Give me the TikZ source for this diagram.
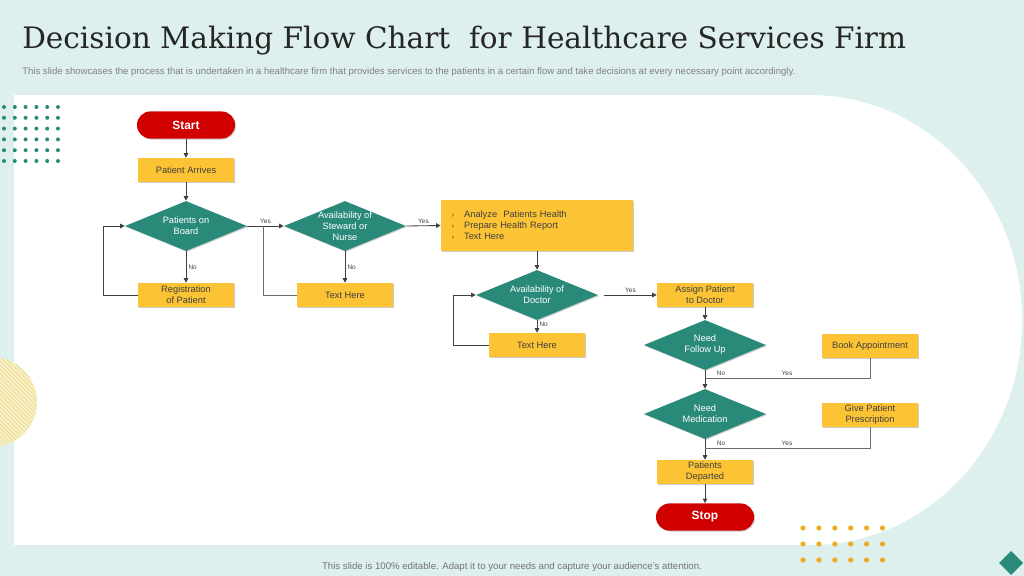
\documentclass[tikz,border=0pt]{standalone}
\usepackage{fontspec}
\setsansfont{Liberation Sans}
\newfontfamily\headfont{DejaVu Serif}
\usetikzlibrary{shapes.geometric,arrows.meta,shadows,patterns}

\definecolor{mint}{RGB}{221,240,238}
\definecolor{boxyellow}{RGB}{252,196,52}
\definecolor{dteal}{RGB}{42,138,122}
\definecolor{stopred}{RGB}{208,0,0}
\definecolor{ink}{RGB}{64,64,64}
\definecolor{dotgold}{RGB}{232,176,32}
\definecolor{hatch}{RGB}{234,214,128}
\definecolor{hatchbg}{RGB}{248,240,200}

\begin{document}
\begin{tikzpicture}[x=0.025cm,y=-0.025cm,
  box/.style={fill=boxyellow,minimum width=2.4cm,minimum height=0.6cm,inner sep=1pt,align=center,text=ink,
    font=\sffamily\fontsize{6.6}{7.8}\selectfont,drop shadow={shadow xshift=0.7pt,shadow yshift=-0.7pt,opacity=0.2,fill=black}},
  dia/.style={diamond,fill=dteal,minimum width=3.05cm,minimum height=1.25cm,shape aspect=2.44,inner sep=-4pt,align=center,text=white,
    font=\sffamily\fontsize{6.6}{7.8}\selectfont,drop shadow={shadow xshift=0.7pt,shadow yshift=-0.7pt,opacity=0.2,fill=black}},
  term/.style={rectangle,rounded corners=0.34cm,fill=stopred,minimum width=2.45cm,minimum height=0.68cm,text=white,
    font=\sffamily\bfseries\fontsize{8.5}{10}\selectfont,drop shadow={shadow xshift=0.7pt,shadow yshift=-0.7pt,opacity=0.2,fill=black}},
  arr/.style={draw=ink,line width=0.6pt,-{Triangle[length=3.2pt,width=3.2pt]}},
  line/.style={draw=gray!85!black,line width=0.6pt},
  lbl/.style={font=\sffamily\fontsize{4.6}{5}\selectfont,text=ink,inner sep=1.5pt}]

\useasboundingbox (0,0) rectangle (1024,576);
\clip (0,0) rectangle (1024,576);

% background
\fill[mint] (0,0) rectangle (1024,576);
\fill[white] (14,95) -- (810,95) arc[start angle=90,end angle=-90,x radius=5.3cm,y radius=5.625cm] -- (14,545) -- cycle;
\fill[hatchbg] (-8,402) circle (1.125cm);
\fill[pattern=north west lines,pattern color=hatch] (-8,402) circle (1.125cm);
\foreach \i in {0,...,5}
  \foreach \j in {0,...,5}
    \fill[dteal] (4+10.8*\i,107+10.8*\j) circle (0.05cm);
\foreach \i in {0,...,5}
  \foreach \j in {0,1,2}
    \fill[dotgold] (803+15.9*\i,528+16*\j) circle (0.065cm);
\fill[dteal] (1011,551) -- (1023,563) -- (1011,575) -- (999,563) -- cycle;

\node[anchor=base west,inner sep=0,text=black!85,font=\headfont\fontsize{21}{26}\selectfont] (title) at (22,49)
  {Decision Making Flow Chart\ \ for Healthcare Services Firm};
\node[anchor=base west,inner sep=0,text=black!50,font=\sffamily\fontsize{6.8}{7.5}\selectfont] (sub) at (22,75)
  {This slide showcases the process that is undertaken in a healthcare firm that provides services to the patients in a certain flow and take decisions at every necessary point accordingly.};
\node[text=black!55,font=\sffamily\fontsize{6.85}{7.5}\selectfont] (foot) at (512,567)
  {This slide is 100\% editable. Adapt it to your needs and capture your audience’s attention.};

% first column
\node[term] (start) at (186,125) {Start};
\node[box] (arrive) at (186,170) {Patient Arrives};
\node[dia] (board) at (186,226) {Patients on\\Board};
\node[box] (reg) at (186,295) {Registration\\of Patient};

% second column
\node[dia] (steward) at (345,226) {Availability of\\Steward or\\Nurse};
\node[box] (text1) at (345,295) {Text Here};

% third column
\node[box,minimum width=4.8cm,minimum height=1.275cm,text width=4.25cm,align=left,inner xsep=0.275cm] (tasks) at (537,225.5)
  {{\fontsize{5}{6}\selectfont ›}\hspace{7pt}Analyze\ \ Patients Health\\
   {\fontsize{5}{6}\selectfont ›}\hspace{7pt}Prepare Health Report\\
   {\fontsize{5}{6}\selectfont ›}\hspace{7pt}Text Here};
\node[dia] (doctor) at (537,295) {Availability of\\Doctor};
\node[box] (text2) at (537,345) {Text Here};

% fourth column
\node[box] (assign) at (705,295) {Assign Patient\\to Doctor};
\node[dia] (follow) at (705,345) {Need\\Follow Up};
\node[dia] (medic) at (705,414) {Need\\Medication};
\node[box] (depart) at (705,472) {Patients\\Departed};
\node[term] (stop) at (705,517) {Stop};

\node[box] (book) at (870,346) {Book Appointment};
\node[box] (presc) at (870,415) {Give Patient\\Prescription};

\coordinate (j1) at (263,226);
\coordinate (j2) at (705,378);
\coordinate (j3) at (705,448);

\draw[arr] (start) -- (arrive);
\draw[arr] (arrive) -- (board);
\draw[arr] (board) -- node[lbl,right] (no1) {No} (reg);
\draw[arr] (reg.west) -- ++(-34,0) |- (board.west);
\draw[arr] (board.east) -- node[lbl,above] (yes1) {Yes} (steward.west);

\draw[arr] (steward) -- node[lbl,right] (no2) {No} (text1);
\draw[line] (text1.west) -| (j1);
\draw[arr] (steward.east) -- node[lbl,above] (yes2) {Yes} (tasks.west);

\draw[arr] (tasks) -- (doctor);
\draw[arr] (doctor) -- node[lbl,right,pos=0.3] (no3) {No} (text2);
\draw[arr] (text2.west) -- ++(-35,0) |- (doctor.west);
\draw[arr] (doctor.east) ++(6,0) -- node[lbl,above] (yes3) {Yes} (assign.west);

\draw[arr] (assign) -- (follow);
\draw[arr] (follow) -- (medic);
\draw[line] (book.south) |- (j2);
\node[lbl,anchor=south] (no4) at (721,378) {No};
\node[lbl,anchor=south] (yes4) at (787,378) {Yes};

\draw[arr] (medic) -- (depart);
\draw[line] (presc.south) |- (j3);
\node[lbl,anchor=south] (no5) at (721,448) {No};
\node[lbl,anchor=south] (yes5) at (787,448) {Yes};

\draw[arr] (depart) -- (stop);
\end{tikzpicture}
\end{document}
